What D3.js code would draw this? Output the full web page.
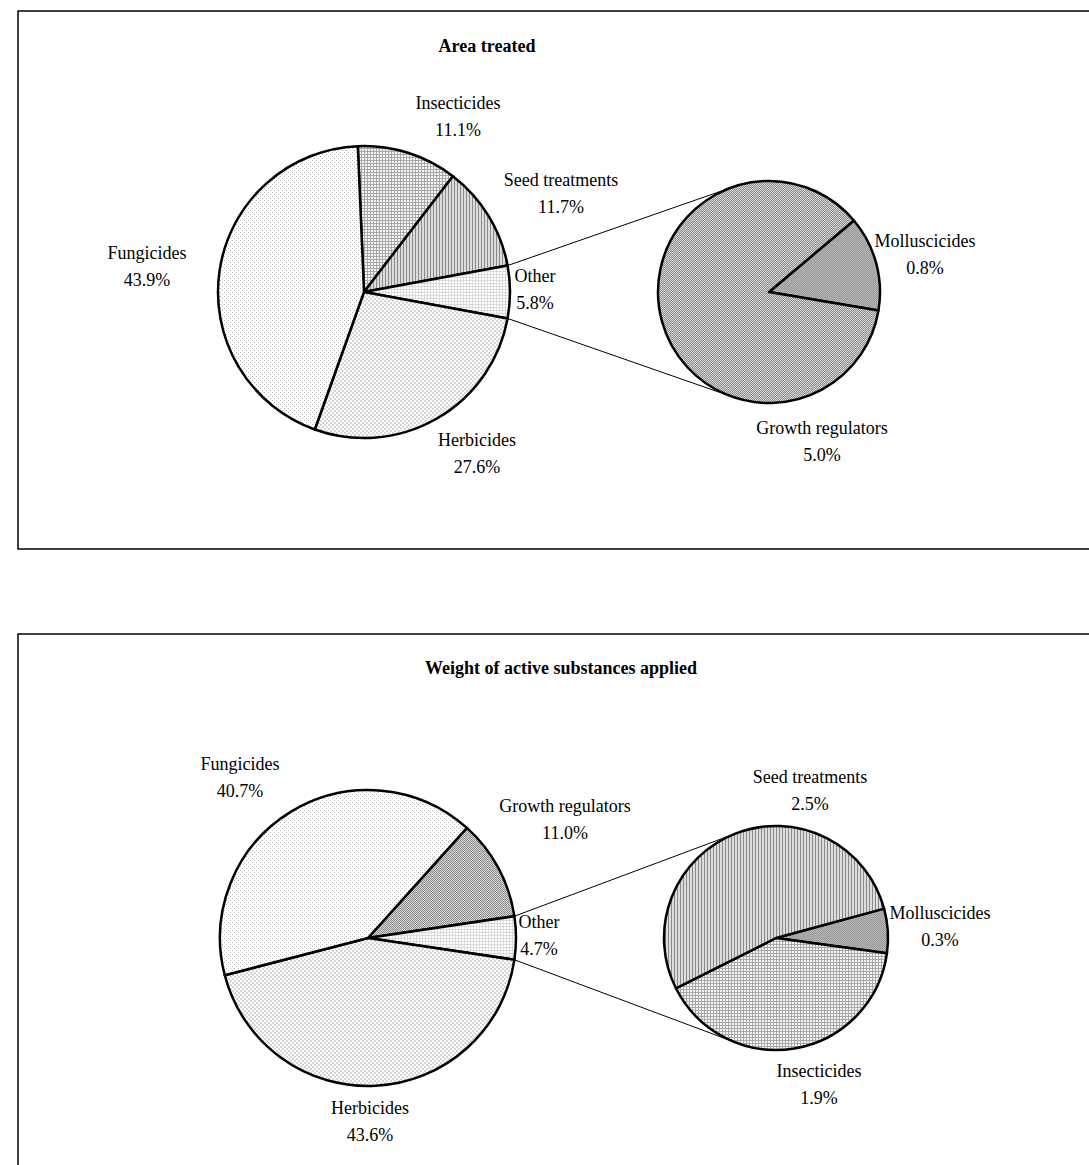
<!DOCTYPE html>
<html>
<head>
<meta charset="utf-8">
<script src="https://cdn.jsdelivr.net/npm/d3@7"></script>
<style>
  body { margin: 0; background: #fff; }
  text { font-family: "Liberation Serif", "Times New Roman", serif; fill: #000; }
</style>
</head>
<body>
<svg id="chart" width="1089" height="1165"></svg>
<script>
// ---- Area treated (%), main pie listed clockwise from the top ----
const areaMainCats = ["Insecticides", "Seed treatments", "Other", "Herbicides", "Fungicides"];
const areaMainVals = [11.1, 11.7, 5.8, 27.6, 43.9];
// breakdown of "Other"
const areaSubCats = ["Molluscicides", "Growth regulators"];
const areaSubVals = [0.8, 5.0];

// ---- Weight of active substances applied (%) ----
const weightMainCats = ["Growth regulators", "Other", "Herbicides", "Fungicides"];
const weightMainVals = [11.0, 4.7, 43.6, 40.7];
const weightSubCats = ["Molluscicides", "Insecticides", "Seed treatments"];
const weightSubVals = [0.3, 1.9, 2.5];

const svg = d3.select("#chart");
const defs = svg.append("defs");

const LABEL_SIZE = 18;
const TITLE_SIZE = 18;

// Monochrome hatch fills, one per category
function makePattern(id, w, h, bg, cells) {
  const p = defs.append("pattern").attr("id", id)
    .attr("patternUnits", "userSpaceOnUse")
    .attr("width", w).attr("height", h);
  p.append("rect").attr("width", w).attr("height", h).attr("fill", bg);
  cells.forEach(c => p.append("rect")
    .attr("x", c[0]).attr("y", c[1]).attr("width", c[2]).attr("height", c[3])
    .attr("fill", c[4]));
}
makePattern("pat-fung", 4, 4, "#ffffff", [[0, 0, 1, 1, "#b8b8b8"], [2, 2, 1, 1, "#b8b8b8"]]);
makePattern("pat-herb", 4, 4, "#ffffff", [[0, 0, 2, 2, "#d6d6d6"], [2, 2, 2, 2, "#d6d6d6"]]);
makePattern("pat-insect", 3, 3, "#f6f6f6", [[0, 0, 3, 1, "#a8a8a8"], [0, 0, 1, 3, "#a8a8a8"]]);
makePattern("pat-seed", 3, 3, "#dcdcdc", [[0, 0, 1, 3, "#8a8a8a"]]);
makePattern("pat-other", 3, 3, "#ffffff", [[0, 0, 3, 1, "#dadada"], [0, 0, 1, 3, "#dadada"]]);
makePattern("pat-growth", 2, 2, "#d6d6d6", [[0, 0, 1, 1, "#8c8c8c"], [1, 1, 1, 1, "#8c8c8c"]]);
makePattern("pat-moll", 2, 2, "#b2b2b2", [[0, 0, 1, 1, "#9c9c9c"], [1, 1, 1, 1, "#9c9c9c"]]);

const fillFor = {
  "Fungicides": "url(#pat-fung)",
  "Herbicides": "url(#pat-herb)",
  "Insecticides": "url(#pat-insect)",
  "Seed treatments": "url(#pat-seed)",
  "Other": "url(#pat-other)",
  "Growth regulators": "url(#pat-growth)",
  "Molluscicides": "url(#pat-moll)"
};

const fmt = v => v.toFixed(1) + "%";
const deg = Math.PI / 180;

const panels = [
  {
    title: "Area treated", titleX: 487, titleY: 46,
    frame: { x: 18, y: 11, w: 1100, h: 538 },
    main: { cats: areaMainCats, vals: areaMainVals, cx: 364, cy: 292, r: 146,
      labels: { "Insecticides": [94, -176], "Seed treatments": [197, -99], "Other": [171, -3],
                "Herbicides": [113, 161], "Fungicides": [-217, -26] } },
    sub: { cats: areaSubCats, vals: areaSubVals, cx: 769, cy: 292, r: 111, start: 49.9,
      labels: { "Molluscicides": [156, -38], "Growth regulators": [53, 149] } }
  },
  {
    title: "Weight of active substances applied", titleX: 561, titleY: 668,
    frame: { x: 18, y: 634, w: 1100, h: 600 },
    main: { cats: weightMainCats, vals: weightMainVals, cx: 368, cy: 938, r: 148,
      labels: { "Fungicides": [-128, -161], "Growth regulators": [197, -119], "Other": [171, -3],
                "Herbicides": [2, 183] } },
    sub: { cats: weightSubCats, vals: weightSubVals, cx: 776, cy: 938, r: 112, start: 74.8,
      labels: { "Molluscicides": [164, -12], "Insecticides": [43, 146], "Seed treatments": [34, -148] } }
  }
];

function drawLabel(g, x, y, name, value) {
  const t = g.append("text").attr("text-anchor", "middle").attr("font-size", LABEL_SIZE);
  t.append("tspan").attr("x", x).attr("y", y - 13.5).attr("dominant-baseline", "central").text(name);
  t.append("tspan").attr("x", x).attr("y", y + 13.5).attr("dominant-baseline", "central").text(fmt(value));
}

function drawPie(g, cfg, startAngle) {
  const data = cfg.cats.map((c, i) => ({ cat: c, val: cfg.vals[i] }));
  const arcs = d3.pie().sort(null).value(d => d.val)
    .startAngle(startAngle).endAngle(startAngle + 2 * Math.PI)(data);
  const arc = d3.arc().innerRadius(0).outerRadius(cfg.r);
  const pg = g.append("g").attr("transform", `translate(${cfg.cx},${cfg.cy})`);
  pg.selectAll("path").data(arcs).join("path")
    .attr("d", arc)
    .attr("fill", d => fillFor[d.data.cat])
    .attr("stroke", "#000").attr("stroke-width", 2.5).attr("stroke-linejoin", "round");
  arcs.forEach(a => {
    const off = cfg.labels[a.data.cat];
    drawLabel(g, cfg.cx + off[0], cfg.cy + off[1], a.data.cat, a.data.val);
  });
  return arcs;
}

function tangentPoint(px, py, c, pickLower) {
  const dx = px - c.cx, dy = py - c.cy;
  const D = Math.hypot(dx, dy);
  const th = Math.atan2(dy, dx), al = Math.acos(c.r / D);
  const a = [th + al, th - al].map(t => [c.cx + c.r * Math.cos(t), c.cy + c.r * Math.sin(t)]);
  a.sort((p, q) => p[1] - q[1]);
  return pickLower ? a[1] : a[0];
}

panels.forEach(p => {
  const g = svg.append("g");
  g.append("rect").attr("x", p.frame.x).attr("y", p.frame.y)
    .attr("width", p.frame.w).attr("height", p.frame.h)
    .attr("fill", "none").attr("stroke", "#000").attr("stroke-width", 1.5);
  g.append("text").attr("x", p.titleX).attr("y", p.titleY)
    .attr("text-anchor", "middle").attr("dominant-baseline", "central")
    .attr("font-size", TITLE_SIZE).attr("font-weight", "bold").text(p.title);

  // main pie rotated so the "Other" wedge is centred on the right
  const m = p.main;
  const total = d3.sum(m.vals);
  const oi = m.cats.indexOf("Other");
  const before = d3.sum(m.vals.slice(0, oi));
  const start = Math.PI / 2 - (before + m.vals[oi] / 2) / total * 2 * Math.PI;
  const arcs = drawPie(g, m, start);

  const sub = p.sub;
  drawPie(g, sub, sub.start * deg);

  // connector lines from the edges of "Other" to the secondary pie
  const oa = arcs[oi];
  const e1 = [m.cx + m.r * Math.sin(oa.startAngle), m.cy - m.r * Math.cos(oa.startAngle)];
  const e2 = [m.cx + m.r * Math.sin(oa.endAngle), m.cy - m.r * Math.cos(oa.endAngle)];
  const t1 = tangentPoint(e1[0], e1[1], sub, false);
  const t2 = tangentPoint(e2[0], e2[1], sub, true);
  [[e1, t1], [e2, t2]].forEach(([a, b]) => g.append("line")
    .attr("x1", a[0]).attr("y1", a[1]).attr("x2", b[0]).attr("y2", b[1])
    .attr("stroke", "#000").attr("stroke-width", 1));
});
</script>
</body>
</html>
